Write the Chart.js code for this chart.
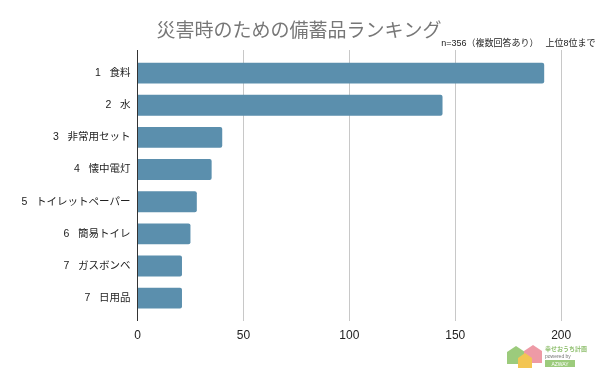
<!DOCTYPE html>
<html lang="ja">
<head>
    <meta charset="UTF-8">
    <title>災害時のための備蓄品ランキング</title>
    <script src="https://cdn.jsdelivr.net/npm/chart.js"></script>
    <style>
        body { margin: 0; background: #fff; }
        .wrap { position: relative; width: 600px; height: 371px; overflow: hidden; }
        .logo { position: absolute; left: 504px; top: 343px; }
    </style>
</head>
<body>
    <div class="wrap">
        <canvas id="rankChart" width="600" height="371"></canvas>
        <!-- small brand mark bottom right -->
        <svg class="logo" width="96" height="28" viewBox="0 0 96 28">
            <path d="M3 9 L12 3 L21 9 L21 21 L3 21 Z" fill="#9ccb7c"/>
            <path d="M20 8 L29 2 L38 8 L38 20 L20 20 Z" fill="#ee9aa6"/>
            <path d="M14 15 L21 10 L28 15 L28 25 L14 25 Z" fill="#f3c552"/>
            <text x="41" y="8" font-family="Noto Sans CJK JP" font-size="6" font-weight="700" fill="#8fbf6e">幸せおうち計画</text>
            <text x="41" y="15" font-family="Liberation Sans" font-size="5" fill="#777">powered by</text>
            <rect x="41" y="17" width="30" height="7" fill="#9ccb7c"/>
            <text x="56" y="23" text-anchor="middle" font-family="Liberation Sans" font-size="5" fill="#fff">AZWAY</text>
        </svg>
    </div>

    <script>
        const ranks = ['1', '2', '3', '4', '5', '6', '7', '7'];
        const items = ['食料', '水', '非常用セット', '懐中電灯', 'トイレットペーパー', '簡易トイレ', 'ガスボンベ', '日用品'];
        const counts = [192, 144, 40, 35, 28, 25, 21, 21];
        const xTicks = [0, 50, 100, 150, 200];

        const fontFamily = '"Liberation Sans", "Noto Sans CJK JP", sans-serif';
        const labels = items.map((name, i) => ranks[i] + '   ' + name);

        // y is linear so the axis can run a bit past the first and last bar
        new Chart(document.getElementById('rankChart'), {
            type: 'bar',
            data: {
                datasets: [{
                    data: counts.map((v, i) => ({ x: v, y: i })),
                    backgroundColor: '#5b8fad',
                    borderRadius: 2,
                    borderSkipped: 'left',
                    categoryPercentage: 0.65,
                    barPercentage: 1
                }]
            },
            options: {
                indexAxis: 'y',
                responsive: false,
                animation: false,
                layout: { padding: { left: 0, right: 2, top: 0, bottom: 20 } },
                plugins: {
                    legend: { display: false },
                    tooltip: { enabled: false },
                    title: {
                        display: true,
                        text: '災害時のための備蓄品ランキング',
                        color: '#777777',
                        font: { family: fontFamily, size: 19, weight: 'normal', lineHeight: 1 },
                        padding: { top: 22.5, bottom: -2 }
                    },
                    subtitle: {
                        display: true,
                        text: 'n=356（複数回答あり）　 上位8位まで ',
                        align: 'end',
                        color: '#222222',
                        font: { family: fontFamily, size: 9, lineHeight: 1 },
                        padding: { top: 0, bottom: 1.5 }
                    }
                },
                scales: {
                    x: {
                        type: 'linear',
                        min: 0,
                        max: 217.4,
                        afterBuildTicks: axis => { axis.ticks = xTicks.map(v => ({ value: v })); },
                        grid: { color: '#c8c8c8', drawTicks: false },
                        border: { display: false },
                        ticks: { color: '#222222', padding: 8, autoSkip: false, maxRotation: 0, font: { family: fontFamily, size: 12 } }
                    },
                    y: {
                        type: 'linear',
                        offset: false,
                        reverse: true,
                        min: -0.72,
                        max: 7.7,
                        afterBuildTicks: axis => { axis.ticks = labels.map((l, i) => ({ value: i })); },
                        afterFit: axis => { axis.width = 137.5; },
                        grid: { display: false, drawTicks: false, offset: false },
                        border: { color: '#333333', width: 1 },
                        ticks: {
                            color: '#222222',
                            padding: 7,
                            autoSkip: false,
                            font: { family: fontFamily, size: 10.5 },
                            callback: value => labels[value]
                        }
                    }
                }
            }
        });
    </script>
</body>
</html>
